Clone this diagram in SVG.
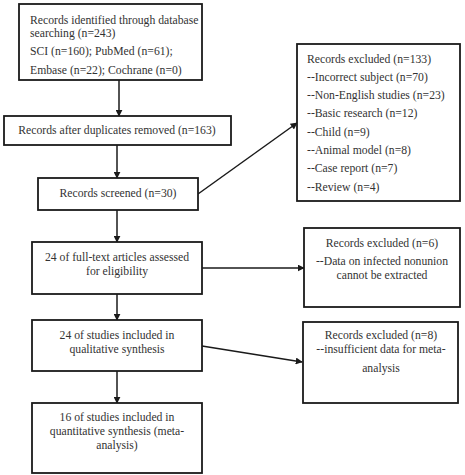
<svg xmlns="http://www.w3.org/2000/svg" width="465" height="475" viewBox="0 0 465 475">
<style>
rect{fill:#fff;stroke:#1a1a1a;stroke-width:1.8}
text{font-family:"Liberation Serif","Times New Roman",serif;font-size:11.7px;fill:#333}
.c{text-anchor:middle}
.ln{stroke:#1a1a1a;stroke-width:1.5;fill:none}
</style>
<defs>
<marker id="ah" viewBox="0 0 10 10" refX="9" refY="5" markerWidth="7" markerHeight="7" orient="auto" markerUnits="userSpaceOnUse">
<path d="M0,0 L10,5 L0,10 z" fill="#1a1a1a"/>
</marker>
</defs>
<rect x="0" y="0" width="465" height="475" style="stroke:none"/>
<g id="connectors">
<line class="ln" x1="119" y1="80" x2="119" y2="116" marker-end="url(#ah)"/>
<line class="ln" x1="117" y1="145" x2="117" y2="178" marker-end="url(#ah)"/>
<line class="ln" x1="117" y1="210" x2="117" y2="242" marker-end="url(#ah)"/>
<line class="ln" x1="117" y1="294" x2="117" y2="320" marker-end="url(#ah)"/>
<line class="ln" x1="117" y1="371" x2="117" y2="403" marker-end="url(#ah)"/>
<line class="ln" x1="198" y1="194" x2="297" y2="123" marker-end="url(#ah)"/>
<line class="ln" x1="202" y1="268" x2="304" y2="268" marker-end="url(#ah)"/>
<line class="ln" x1="202" y1="346" x2="302" y2="362" marker-end="url(#ah)"/>
</g>
<g id="identified">
<rect x="19" y="4" width="183" height="76"/>
<text x="30" y="24">Records identified through database</text>
<text x="30" y="37">searching (n=243)</text>
<text x="30" y="55">SCI (n=160); PubMed (n=61);</text>
<text x="30" y="74">Embase (n=22); Cochrane (n=0)</text>
</g>
<g id="duplicates">
<rect x="4" y="116" width="227" height="29"/>
<text class="c" x="117" y="134">Records after duplicates removed (n=163)</text>
</g>
<g id="screened">
<rect x="38" y="178" width="160" height="32"/>
<text class="c" x="118" y="197">Records screened (n=30)</text>
</g>
<g id="excluded133">
<rect x="297" y="44" width="163" height="157"/>
<text x="307" y="63">Records excluded (n=133)</text>
<text x="307" y="81">--Incorrect subject (n=70)</text>
<text x="307" y="99">--Non-English studies (n=23)</text>
<text x="307" y="117">--Basic research (n=12)</text>
<text x="307" y="136">--Child (n=9)</text>
<text x="307" y="154">--Animal model (n=8)</text>
<text x="307" y="172">--Case report (n=7)</text>
<text x="307" y="191">--Review (n=4)</text>
</g>
<g id="fulltext">
<rect x="32" y="242" width="170" height="52"/>
<text class="c" x="117" y="261">24 of full-text articles assessed</text>
<text class="c" x="117" y="275">for eligibility</text>
</g>
<g id="excluded6">
<rect x="304" y="228" width="156" height="79"/>
<text class="c" x="382" y="247">Records excluded (n=6)</text>
<text class="c" x="382" y="265">--Data on infected nonunion</text>
<text class="c" x="382" y="279">cannot be extracted</text>
</g>
<g id="qualitative">
<rect x="32" y="320" width="170" height="51"/>
<text class="c" x="117" y="339">24 of studies included in</text>
<text class="c" x="117" y="353">qualitative synthesis</text>
</g>
<g id="excluded8">
<rect x="303" y="322" width="155" height="81"/>
<text class="c" x="381" y="339">Records excluded (n=8)</text>
<text class="c" x="381" y="353">--insufficient data for meta-</text>
<text class="c" x="381" y="372">analysis</text>
</g>
<g id="quantitative">
<rect x="32" y="403" width="170" height="70"/>
<text class="c" x="117" y="421">16 of studies included in</text>
<text class="c" x="117" y="435">quantitative synthesis (meta-</text>
<text class="c" x="117" y="449">analysis)</text>
</g>
</svg>
